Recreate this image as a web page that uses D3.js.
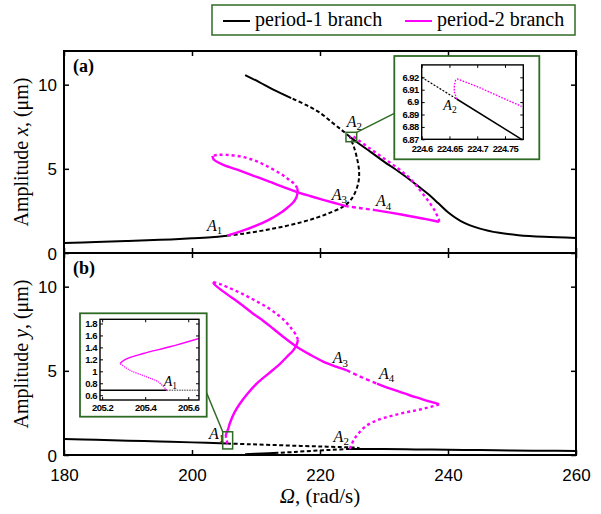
<!DOCTYPE html>
<html>
<head>
<meta charset="utf-8">
<script src="https://cdn.jsdelivr.net/npm/d3@7"></script>
<style>
  body { margin: 0; background: #fff; }
  svg { display: block; }
</style>
</head>
<body>
<svg id="chart" width="601" height="514"></svg>
<script>
// ---------------------------------------------------------------
// Frequency-response curves of the two-mode system.
// Each array holds [Omega (rad/s), amplitude (um)] samples.
// ---------------------------------------------------------------
const omegaDomain = [180, 260];
const ampDomain = [0, 12];
const omegaTicks = [180, 200, 220, 240, 260];
const ampTicks = [0, 5, 10];

// Panel (a): amplitude x, period-1 branch
const p1xLowerStable = [[180,0.6],[185,0.65],[190,0.71],[195,0.78],[200,0.87],[203,0.94],[205.5,1.03]];
const p1xMiddleUnstable = [[205.5,1.03],[208,1.15],[211,1.33],[214,1.55],[217,1.82],[219.5,2.1],[221.5,2.38],[223.6,2.75],[224.8,3.15],[225.6,3.7],[226.05,4.3],[226.1,4.9],[225.8,5.6],[225.3,6.3],[224.66,6.9]];
const p1xUpperUnstable = [[224.66,6.9],[223.5,7.27],[222,7.72],[220,8.33],[217.9,8.78],[215.5,9.2]];
const p1xUpperStableTop = [[215.5,9.2],[212.7,9.7],[210.5,10.15],[208.3,10.57]];
const p1xUpperStable = [[224.66,6.9],[226,6.52],[228,5.98],[230,5.43],[232.5,4.78],[234.5,4.22],[236.7,3.56],[238.5,2.95],[240,2.42],[242,1.9],[245,1.45],[248,1.2],[251,1.06],[255,0.96],[260,0.89]];

// Panel (a): amplitude x, period-2 branch
const p2xRise = [[205.5,1.03],[207.5,1.27],[210,1.62],[212,1.97],[213.75,2.36],[215,2.72],[215.8,3.0],[216.3,3.3],[216.5,3.6],[216.45,3.85]];
const p2xLoopUpper = [[216.45,3.85],[216,4.1],[215,4.4],[213.75,4.73],[211.5,5.2],[209.6,5.52],[207.5,5.74],[205.4,5.83],[204,5.83],[203.2,5.77]];
const p2xLoopLower = [[203.2,5.77],[203.4,5.55],[205,5.22],[207.5,4.9],[210,4.53],[212.7,4.15],[214.5,3.88],[216.4,3.62],[218.5,3.38],[220.5,3.16],[222.3,2.97],[223.9,2.8]];
const p2xA3A4 = [[223.9,2.8],[226.2,2.67],[228.6,2.55]];
const p2xA4Tip = [[228.6,2.55],[231,2.4],[233.5,2.23],[236,2.05],[238,1.9],[238.6,1.85]];
const p2xReturn = [[238.6,1.85],[238.55,2.05],[238.2,2.3],[237.8,2.6],[237.2,2.95],[236.5,3.3],[235.6,3.74],[234.5,4.25],[233.5,4.62],[232,5.08],[230,5.62],[228,6.15],[226,6.7],[225.1,6.93],[224.66,6.9]];

// Panel (b): amplitude y, period-1 branch
const p1yLowerStable = [[180,0.95],[185,0.9],[190,0.85],[195,0.8],[200,0.75],[205.5,0.68]];
const p1yMiddleUnstable = [[205.5,0.68],[209,0.64],[213,0.59],[217,0.54],[220.5,0.5],[223.5,0.47],[225.3,0.44],[226.1,0.41],[225.8,0.38],[224.66,0.36]];
const p1yUpperUnstable = [[224.66,0.36],[222,0.31],[219,0.25],[216,0.18],[213.5,0.13]];
const p1yUpperStableTop = [[213.5,0.13],[211,0.09],[208.3,0.05]];
const p1yUpperStable = [[224.66,0.36],[230,0.35],[235,0.33],[240,0.31],[245,0.29],[250,0.27],[255,0.25],[260,0.24]];

// Panel (b): amplitude y, period-2 branch
const p2yNearA1 = [[205.5,0.68],[205.46,0.82],[205.41,0.9],[205.33,1.02],[205.283,1.13]];
const p2yRise = [[205.283,1.13],[205.306,1.2],[205.39,1.3],[205.515,1.41],[205.65,1.55],[205.9,1.87],[206.6,2.5],[207.5,3.06],[208.8,3.7],[210.1,4.24],[212,4.85],[213.75,5.42],[215,5.9],[215.8,6.21],[216.35,6.55],[216.55,6.85]];
const p2yLoopUpper = [[216.55,6.85],[216.3,7.1],[215.6,7.48],[214.8,7.85],[213.5,8.3],[211.7,8.78],[209.5,9.25],[207.5,9.64],[205.5,9.98],[204.3,10.17],[203.3,10.27]];
const p2yLoopLower = [[203.3,10.27],[203.6,10.1],[205.4,9.57],[207.5,9.0],[209.6,8.38],[211.2,7.95],[212.7,7.5],[214.5,6.95],[216.4,6.42],[218.5,5.95],[220.5,5.55],[222.5,5.25],[224.2,5.03]];
const p2yA3A4 = [[224.2,5.03],[226.5,4.62],[228.9,4.24]];
const p2yA4Tip = [[228.9,4.24],[230.5,4.0],[232.5,3.75],[234,3.55],[235.6,3.36],[237.2,3.17],[238.6,3.02]];
const p2yReturn = [[238.6,3.02],[238.2,2.95],[237.7,2.9],[236.5,2.78],[235.1,2.66],[233.3,2.52],[231.5,2.36],[229.8,2.18],[228.3,1.96],[227.1,1.7],[226.25,1.38],[225.6,1.08],[225.15,0.8],[224.85,0.55],[224.66,0.36]];

// Bifurcation points
const pointsX = [
  { id: "A1", omega: 205.5, amp: 1.03 },
  { id: "A2", omega: 224.66, amp: 6.9 },
  { id: "A3", omega: 223.9, amp: 2.8 },
  { id: "A4", omega: 228.6, amp: 2.55 }
];
const pointsY = [
  { id: "A1", omega: 205.5, amp: 0.68 },
  { id: "A2", omega: 224.66, amp: 0.36 },
  { id: "A3", omega: 224.2, amp: 5.03 },
  { id: "A4", omega: 228.9, amp: 4.24 }
];

// Magnified neighbourhood of A2 (amplitude x)
const insetAOmega = [224.6, 224.783];
const insetAAmp = [6.87, 6.93];
const insetAOmegaTicks = [224.6, 224.65, 224.7, 224.75];
const insetAAmpTicks = [6.87, 6.88, 6.89, 6.9, 6.91, 6.92];
const insetAP1Unstable = [[224.6,6.92],[224.663,6.9025]];
const insetAP1Stable = [[224.663,6.9025],[224.78,6.87]];
const insetAP2 = [[224.663,6.9025],[224.6586,6.9085],[224.6588,6.9135],[224.661,6.9175],[224.6647,6.9186],[224.7,6.9125],[224.74,6.9045],[224.78,6.8965]];
const insetAPoint = { id: "A2", omega: 224.663, amp: 6.9025 };
const zoomBoxA = { omega: [224.06, 225.73], amp: [6.61, 7.17] };

// Magnified neighbourhood of A1 (amplitude y)
const insetBOmega = [205.19, 205.65];
const insetBAmp = [0.52, 1.87];
const insetBOmegaTicks = [205.2, 205.4, 205.6];
const insetBAmpTicks = [0.6, 0.8, 1, 1.2, 1.4, 1.6, 1.8];
const insetBP1Stable = [[205.19,0.684],[205.5,0.684]];
const insetBP1Unstable = [[205.5,0.684],[205.65,0.682]];
const insetBP2Unstable = [[205.5,0.684],[205.461,0.823],[205.407,0.906],[205.329,1.018],[205.283,1.13]];
const insetBP2Stable = [[205.283,1.13],[205.306,1.196],[205.391,1.297],[205.515,1.41],[205.65,1.55]];
const insetBPoint = { id: "A1", omega: 205.5, amp: 0.684 };
const zoomBoxB = { omega: [204.8, 206.35], amp: [0.36, 1.38] };

const legendItems = [
  { label: "period-1 branch", color: "#000000" },
  { label: "period-2 branch", color: "#ff00ff" }
];

// ---------------------------------------------------------------
const MAGENTA = "#ff00ff";
const GREEN = "#2f6b25";
const styles = {
  p1solid: { stroke: "#000", width: 2, dash: null },
  p1dash:  { stroke: "#000", width: 2, dash: "4,2.5" },
  p2solid: { stroke: MAGENTA, width: 2.4, dash: null },
  p2dot:   { stroke: MAGENTA, width: 2.4, dash: "3,3" },
  p2dash:  { stroke: MAGENTA, width: 2.4, dash: "4,3" }
};

const svg = d3.select("#chart");
const left = 64, right = 576;
const panels = [
  { key: "a", top: 51, bottom: 253, letter: "(a)", yVar: "x",
    series: [
      [p1xLowerStable, "p1solid"], [p1xMiddleUnstable, "p1dash"], [p1xUpperUnstable, "p1dash"],
      [p1xUpperStableTop, "p1solid"], [p1xUpperStable, "p1solid"],
      [p2xRise, "p2solid"], [p2xLoopUpper, "p2dot"], [p2xLoopLower, "p2solid"],
      [p2xA3A4, "p2dash"], [p2xA4Tip, "p2solid"], [p2xReturn, "p2dot"]
    ],
    points: pointsX,
    labelPlace: { A1: [-5, -5, "end"], A2: [-3, -10, "start"], A3: [2, -6, "end"], A4: [1, -4, "start"] }
  },
  { key: "b", top: 253, bottom: 455, letter: "(b)", yVar: "y",
    series: [
      [p1yLowerStable, "p1solid"], [p1yMiddleUnstable, "p1dash"], [p1yUpperUnstable, "p1dash"],
      [p1yUpperStableTop, "p1solid"], [p1yUpperStable, "p1solid"],
      [p2yNearA1, "p2dot"], [p2yRise, "p2solid"], [p2yLoopUpper, "p2dot"], [p2yLoopLower, "p2solid"],
      [p2yA3A4, "p2dash"], [p2yA4Tip, "p2solid"], [p2yReturn, "p2dot"]
    ],
    points: pointsY,
    labelPlace: { A1: [-3, -5, "end"], A2: [-1, -7, "end"], A3: [1, -7, "end"], A4: [2, -5, "start"] }
  }
];

const x = d3.scaleLinear().domain(omegaDomain).range([left, right]);

function drawLabel(g, px, py, id, size, anchor) {
  const t = g.append("text")
    .attr("x", px).attr("y", py)
    .attr("text-anchor", anchor)
    .attr("font-family", "Liberation Serif, Times New Roman, serif")
    .attr("font-style", "italic")
    .attr("font-size", size);
  t.append("tspan").text(id[0]);
  t.append("tspan").attr("font-size", size * 0.68).attr("dy", size * 0.22).attr("font-style", "normal").text(id.slice(1));
}

panels.forEach(p => {
  const y = d3.scaleLinear().domain(ampDomain).range([p.bottom, p.top]);
  const g = svg.append("g");
  const clipId = "clip-" + p.key;
  svg.append("clipPath").attr("id", clipId)
    .append("rect").attr("x", left).attr("y", p.top).attr("width", right - left).attr("height", p.bottom - p.top);

  const line = d3.line().x(d => x(d[0])).y(d => y(d[1])).curve(d3.curveCatmullRom.alpha(0.5));
  const curves = g.append("g").attr("clip-path", `url(#${clipId})`);
  // period-1 first, period-2 drawn on top
  const ordered = p.series.filter(s => s[1].startsWith("p1")).concat(p.series.filter(s => s[1].startsWith("p2")));
  ordered.forEach(([data, sk]) => {
    const st = styles[sk];
    curves.append("path").attr("d", line(data))
      .attr("fill", "none").attr("stroke", st.stroke).attr("stroke-width", st.width)
      .attr("stroke-dasharray", st.dash).attr("stroke-linejoin", "round");
  });

  // axes with inward ticks
  const axFont = "Liberation Sans, Arial, sans-serif";
  const bottomAx = d3.axisBottom(x).tickValues(omegaTicks).tickSize(-5).tickPadding(14);
  if (p.key === "a") bottomAx.tickFormat("");
  const gb = g.append("g").attr("transform", `translate(0,${p.bottom})`).call(bottomAx);
  const gt = g.append("g").attr("transform", `translate(0,${p.top})`).call(d3.axisTop(x).tickValues(omegaTicks).tickSize(-5).tickFormat(""));
  const gl = g.append("g").attr("transform", `translate(${left},0)`).call(d3.axisLeft(y).tickValues(ampTicks).tickSize(-5).tickPadding(7));
  const gr = g.append("g").attr("transform", `translate(${right},0)`).call(d3.axisRight(y).tickValues(ampTicks).tickSize(-5).tickFormat(""));
  [gb, gt, gl, gr].forEach(a => {
    a.select(".domain").remove();
    a.selectAll(".tick line").attr("stroke", "#000").attr("stroke-width", 1.5);
    a.selectAll("text").attr("font-family", axFont).attr("font-size", 17).attr("fill", "#000");
  });
  gl.selectAll("text").attr("dy", "0.36em");
  g.append("rect").attr("x", left).attr("y", p.top).attr("width", right - left).attr("height", p.bottom - p.top)
    .attr("fill", "none").attr("stroke", "#000").attr("stroke-width", 2);

  // panel letter
  g.append("text").attr("x", left + 9).attr("y", p.top + 21)
    .attr("font-family", "Liberation Serif, Times New Roman, serif").attr("font-weight", "bold")
    .attr("font-size", 18).text(p.letter);

  // y axis title
  const cy = (p.top + p.bottom) / 2;
  const yt = g.append("text")
    .attr("transform", `translate(28,${cy}) rotate(-90)`)
    .attr("text-anchor", "middle")
    .attr("font-family", "Liberation Serif, Times New Roman, serif")
    .attr("font-size", 20);
  yt.append("tspan").text("Amplitude ");
  yt.append("tspan").attr("font-style", "italic").text(p.yVar);
  yt.append("tspan").text(", (\u03bcm)");

  // bifurcation point labels
  p.points.forEach(pt => {
    const [dx, dy, anchor] = p.labelPlace[pt.id];
    drawLabel(g, x(pt.omega) + dx, y(pt.amp) + dy, pt.id, 16, anchor);
  });

  p.yScale = y;
});

// x axis title
const xt = svg.append("text").attr("x", (left + right) / 2).attr("y", 503)
  .attr("text-anchor", "middle")
  .attr("font-family", "Liberation Serif, Times New Roman, serif").attr("font-size", 21);
xt.append("tspan").attr("font-style", "italic").text("\u03a9");
xt.append("tspan").text(", (rad/s)");

// ---------------------------------------------------------------
// Insets
function drawInset(cfg) {
  const g = svg.append("g");
  const ix = d3.scaleLinear().domain(cfg.omega).range(cfg.xr);
  const iy = d3.scaleLinear().domain(cfg.amp).range(cfg.yr);
  // zoom marker on the main panel and the leader line
  const mainY = cfg.mainY;
  const zx0 = x(cfg.zoom.omega[0]), zx1 = x(cfg.zoom.omega[1]);
  const zy0 = mainY(cfg.zoom.amp[1]), zy1 = mainY(cfg.zoom.amp[0]);
  g.append("rect").attr("x", zx0).attr("y", zy0).attr("width", zx1 - zx0).attr("height", zy1 - zy0)
    .attr("fill", "none").attr("stroke", GREEN).attr("stroke-width", 1.5);
  const lead = cfg.leader(zx0, zx1, zy0, zy1);
  g.append("line").attr("x1", lead[0]).attr("y1", lead[1]).attr("x2", lead[2]).attr("y2", lead[3])
    .attr("stroke", GREEN).attr("stroke-width", 1.5);
  // inset frame
  g.append("rect").attr("x", cfg.box[0]).attr("y", cfg.box[1]).attr("width", cfg.box[2] - cfg.box[0]).attr("height", cfg.box[3] - cfg.box[1])
    .attr("fill", "#fff").attr("stroke", GREEN).attr("stroke-width", 1.8);

  const clipId = "clip-inset-" + cfg.key;
  svg.append("clipPath").attr("id", clipId).append("rect")
    .attr("x", cfg.xr[0]).attr("y", cfg.yr[1]).attr("width", cfg.xr[1] - cfg.xr[0]).attr("height", cfg.yr[0] - cfg.yr[1]);
  const cg = g.append("g").attr("clip-path", `url(#${clipId})`);
  const lin = d3.line().x(d => ix(d[0])).y(d => iy(d[1]));
  const smooth = d3.line().x(d => ix(d[0])).y(d => iy(d[1])).curve(d3.curveCatmullRom.alpha(0.5));
  cfg.series.forEach(s => {
    cg.append("path").attr("d", (s.smooth ? smooth : lin)(s.data)).attr("fill", "none")
      .attr("stroke", s.color).attr("stroke-width", s.width).attr("stroke-dasharray", s.dash);
  });

  const f = d => String(d);
  const font = "Liberation Sans, Arial, sans-serif";
  const ab = g.append("g").attr("transform", `translate(0,${cfg.yr[0]})`).call(d3.axisBottom(ix).tickValues(cfg.xt).tickSize(-3).tickPadding(cfg.xPad).tickFormat(f));
  const at = g.append("g").attr("transform", `translate(0,${cfg.yr[1]})`).call(d3.axisTop(ix).tickValues(cfg.xt).tickSize(-3).tickFormat(""));
  const al = g.append("g").attr("transform", `translate(${cfg.xr[0]},0)`).call(d3.axisLeft(iy).tickValues(cfg.yt).tickSize(-3).tickPadding(3).tickFormat(f));
  const ar = g.append("g").attr("transform", `translate(${cfg.xr[1]},0)`).call(d3.axisRight(iy).tickValues(cfg.yt).tickSize(-3).tickFormat(""));
  [ab, at, al, ar].forEach(a => {
    a.select(".domain").remove();
    a.selectAll(".tick line").attr("stroke", "#000").attr("stroke-width", 1);
    a.selectAll("text").attr("font-family", font).attr("font-weight", "bold").attr("font-size", cfg.fontSize)
      .attr("fill", "#000").attr("letter-spacing", -0.5);
  });
  al.selectAll("text").attr("dy", "0.3em");
  g.append("rect").attr("x", cfg.xr[0]).attr("y", cfg.yr[1]).attr("width", cfg.xr[1] - cfg.xr[0]).attr("height", cfg.yr[0] - cfg.yr[1])
    .attr("fill", "none").attr("stroke", "#000").attr("stroke-width", 1.4);

  drawLabel(g, ix(cfg.point.omega) + cfg.labelPlace[0], iy(cfg.point.amp) + cfg.labelPlace[1], cfg.point.id, 14, cfg.labelPlace[2]);
}

drawInset({
  key: "a", omega: insetAOmega, amp: insetAAmp, xr: [421.7, 523.3], yr: [139.3, 64.9],
  box: [394.3, 56, 539.3, 159.3], xt: insetAOmegaTicks, yt: insetAAmpTicks, fontSize: 9.4, xPad: 6,
  mainY: panels[0].yScale, zoom: zoomBoxA,
  leader: (x0, x1, y0, y1) => [x1, y0, 394.3, 113.3],
  series: [
    { data: insetAP1Unstable, color: "#000", width: 1.2, dash: "2,1.5" },
    { data: insetAP1Stable, color: "#000", width: 1.5, dash: null },
    { data: insetAP2, color: MAGENTA, width: 1.4, dash: "1.6,1.4", smooth: false }
  ],
  point: insetAPoint, labelPlace: [0, 11, "end"]
});

drawInset({
  key: "b", omega: insetBOmega, amp: insetBAmp, xr: [100, 199], yr: [400, 319.3],
  box: [80, 313.3, 206.7, 416.7], xt: insetBOmegaTicks, yt: insetBAmpTicks, fontSize: 9.5, xPad: 4,
  mainY: panels[1].yScale, zoom: zoomBoxB,
  leader: (x0, x1, y0, y1) => [206.7, 393, x0, y0],
  series: [
    { data: insetBP1Stable, color: "#000", width: 1.5, dash: null },
    { data: insetBP1Unstable, color: "#777", width: 1.5, dash: "1.5,1" },
    { data: insetBP2Unstable, color: MAGENTA, width: 1.2, dash: "1.2,1", smooth: true },
    { data: insetBP2Stable, color: MAGENTA, width: 1.5, dash: null, smooth: true }
  ],
  point: insetBPoint, labelPlace: [-3, -4, "start"]
});

// ---------------------------------------------------------------
// Legend
const lg = svg.append("g");
const lgBox = { x0: 212, y0: 5, x1: 575, y1: 35 };
lg.append("rect").attr("x", lgBox.x0).attr("y", lgBox.y0).attr("width", lgBox.x1 - lgBox.x0).attr("height", lgBox.y1 - lgBox.y0)
  .attr("fill", "#fff").attr("stroke", GREEN).attr("stroke-width", 1.5);
const itemX = [223, 405];
legendItems.forEach((it, i) => {
  const lx = itemX[i], ly = (lgBox.y0 + lgBox.y1) / 2 + 1;
  lg.append("line").attr("x1", lx).attr("x2", lx + 27).attr("y1", ly).attr("y2", ly)
    .attr("stroke", it.color).attr("stroke-width", 2);
  lg.append("text").attr("x", lx + 32).attr("y", ly + 5)
    .attr("font-family", "Liberation Serif, Times New Roman, serif").attr("font-size", 20)
    .text(it.label);
});
</script>
</body>
</html>
